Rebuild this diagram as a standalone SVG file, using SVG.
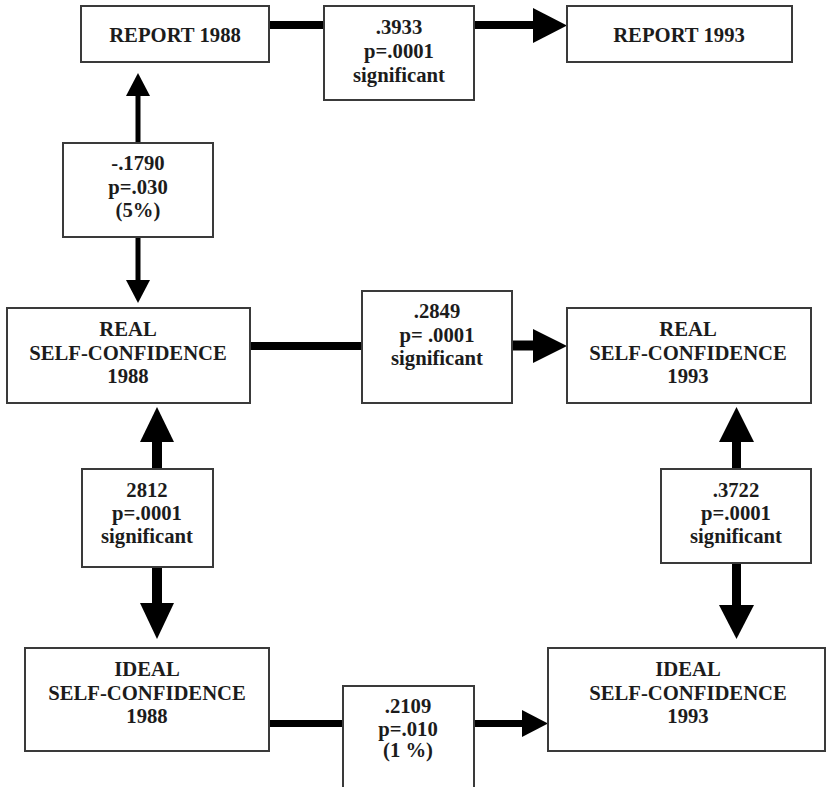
<svg xmlns="http://www.w3.org/2000/svg" width="826" height="787" viewBox="0 0 826 787">
  <style>
    .box { fill: #ffffff; stroke: #3a3a3a; stroke-width: 2; }
    .lbl { font-family: "Liberation Serif", "Times New Roman", serif; font-weight: bold; font-size: 20.7px; fill: #1c1c1c; text-anchor: middle; }
    .bar { stroke: #000000; fill: none; }
    .head { fill: #000000; stroke: none; }
  </style>
  <rect width="826" height="787" fill="#ffffff"/>

  <!-- connectors (shafts and arrowheads) -->
  <g id="connectors">
    <!-- Report 1988 -> Report 1993 -->
    <line class="bar" x1="269" y1="25" x2="325" y2="25" stroke-width="8"/>
    <line class="bar" x1="473" y1="25" x2="535" y2="25" stroke-width="8"/>
    <polygon class="head" points="533,8 567,25.5 533,43"/>

    <!-- Report 1988 <-> Real 1988 -->
    <line class="bar" x1="138" y1="94" x2="138" y2="144" stroke-width="5"/>
    <polygon class="head" points="126,96 138,73 150,96"/>
    <line class="bar" x1="138" y1="236" x2="138" y2="282" stroke-width="5"/>
    <polygon class="head" points="126,280 138,303 150,280"/>

    <!-- Real 1988 -> Real 1993 -->
    <line class="bar" x1="250" y1="346" x2="363" y2="346" stroke-width="8"/>
    <line class="bar" x1="511" y1="345.5" x2="535" y2="345.5" stroke-width="10"/>
    <polygon class="head" points="533,329 567,346 533,363"/>

    <!-- Real 1988 <-> Ideal 1988 -->
    <line class="bar" x1="157" y1="440" x2="157" y2="470" stroke-width="10"/>
    <polygon class="head" points="140,442 157,407 174,442"/>
    <line class="bar" x1="157" y1="566" x2="157" y2="605" stroke-width="10"/>
    <polygon class="head" points="140,603 157,639 174,603"/>

    <!-- Real 1993 <-> Ideal 1993 -->
    <line class="bar" x1="736.5" y1="440" x2="736.5" y2="470" stroke-width="9"/>
    <polygon class="head" points="719,442 736.5,407 754,442"/>
    <line class="bar" x1="736.5" y1="562" x2="736.5" y2="607" stroke-width="9"/>
    <polygon class="head" points="719,605 736.5,639 754,605"/>

    <!-- Ideal 1988 -> Ideal 1993 -->
    <line class="bar" x1="269" y1="723.5" x2="344" y2="723.5" stroke-width="7"/>
    <line class="bar" x1="473" y1="723.5" x2="524" y2="723.5" stroke-width="7"/>
    <polygon class="head" points="522,710 548,723.5 522,737"/>
  </g>

  <!-- main nodes -->
  <g id="report-1988">
    <rect class="box" x="81" y="6" width="188" height="56"/>
    <text class="lbl" x="175" y="42">REPORT 1988</text>
  </g>
  <g id="report-1993">
    <rect class="box" x="567" y="6" width="225" height="56"/>
    <text class="lbl" x="679" y="42">REPORT 1993</text>
  </g>
  <g id="real-1988">
    <rect class="box" x="7" y="308" width="243" height="95"/>
    <text class="lbl" x="128" y="336">REAL</text>
    <text class="lbl" x="128" y="360">SELF-CONFIDENCE</text>
    <text class="lbl" x="128" y="383">1988</text>
  </g>
  <g id="real-1993">
    <rect class="box" x="567" y="308" width="244" height="95"/>
    <text class="lbl" x="688" y="336">REAL</text>
    <text class="lbl" x="688" y="360">SELF-CONFIDENCE</text>
    <text class="lbl" x="688" y="383">1993</text>
  </g>
  <g id="ideal-1988">
    <rect class="box" x="25" y="648" width="244" height="103"/>
    <text class="lbl" x="147" y="676">IDEAL</text>
    <text class="lbl" x="147" y="700">SELF-CONFIDENCE</text>
    <text class="lbl" x="147" y="723">1988</text>
  </g>
  <g id="ideal-1993">
    <rect class="box" x="548" y="648" width="277" height="103"/>
    <text class="lbl" x="688" y="676">IDEAL</text>
    <text class="lbl" x="688" y="700">SELF-CONFIDENCE</text>
    <text class="lbl" x="688" y="723">1993</text>
  </g>

  <!-- coefficient boxes -->
  <g id="coef-report">
    <rect class="box" x="324" y="6" width="150" height="94"/>
    <text class="lbl" x="399" y="34">.3933</text>
    <text class="lbl" x="399" y="58">p=.0001</text>
    <text class="lbl" x="399" y="82">significant</text>
  </g>
  <g id="coef-report-real">
    <rect class="box" x="63" y="143" width="150" height="94"/>
    <text class="lbl" x="138" y="170">-.1790</text>
    <text class="lbl" x="138" y="194">p=.030</text>
    <text class="lbl" x="138" y="217">(5%)</text>
  </g>
  <g id="coef-real">
    <rect class="box" x="362" y="291" width="150" height="112"/>
    <text class="lbl" x="437" y="318">.2849</text>
    <text class="lbl" x="437" y="342">p= .0001</text>
    <text class="lbl" x="437" y="365">significant</text>
  </g>
  <g id="coef-real-ideal-1988">
    <rect class="box" x="82" y="469" width="131" height="98"/>
    <text class="lbl" x="147" y="497">2812</text>
    <text class="lbl" x="147" y="520">p=.0001</text>
    <text class="lbl" x="147" y="543">significant</text>
  </g>
  <g id="coef-real-ideal-1993">
    <rect class="box" x="661" y="469" width="150" height="94"/>
    <text class="lbl" x="736" y="497">.3722</text>
    <text class="lbl" x="736" y="520">p=.0001</text>
    <text class="lbl" x="736" y="543">significant</text>
  </g>
  <g id="coef-ideal">
    <rect class="box" x="343" y="686" width="131" height="110"/>
    <text class="lbl" x="408" y="713">.2109</text>
    <text class="lbl" x="408" y="736">p=.010</text>
    <text class="lbl" x="408" y="757">(1 %)</text>
  </g>
</svg>
